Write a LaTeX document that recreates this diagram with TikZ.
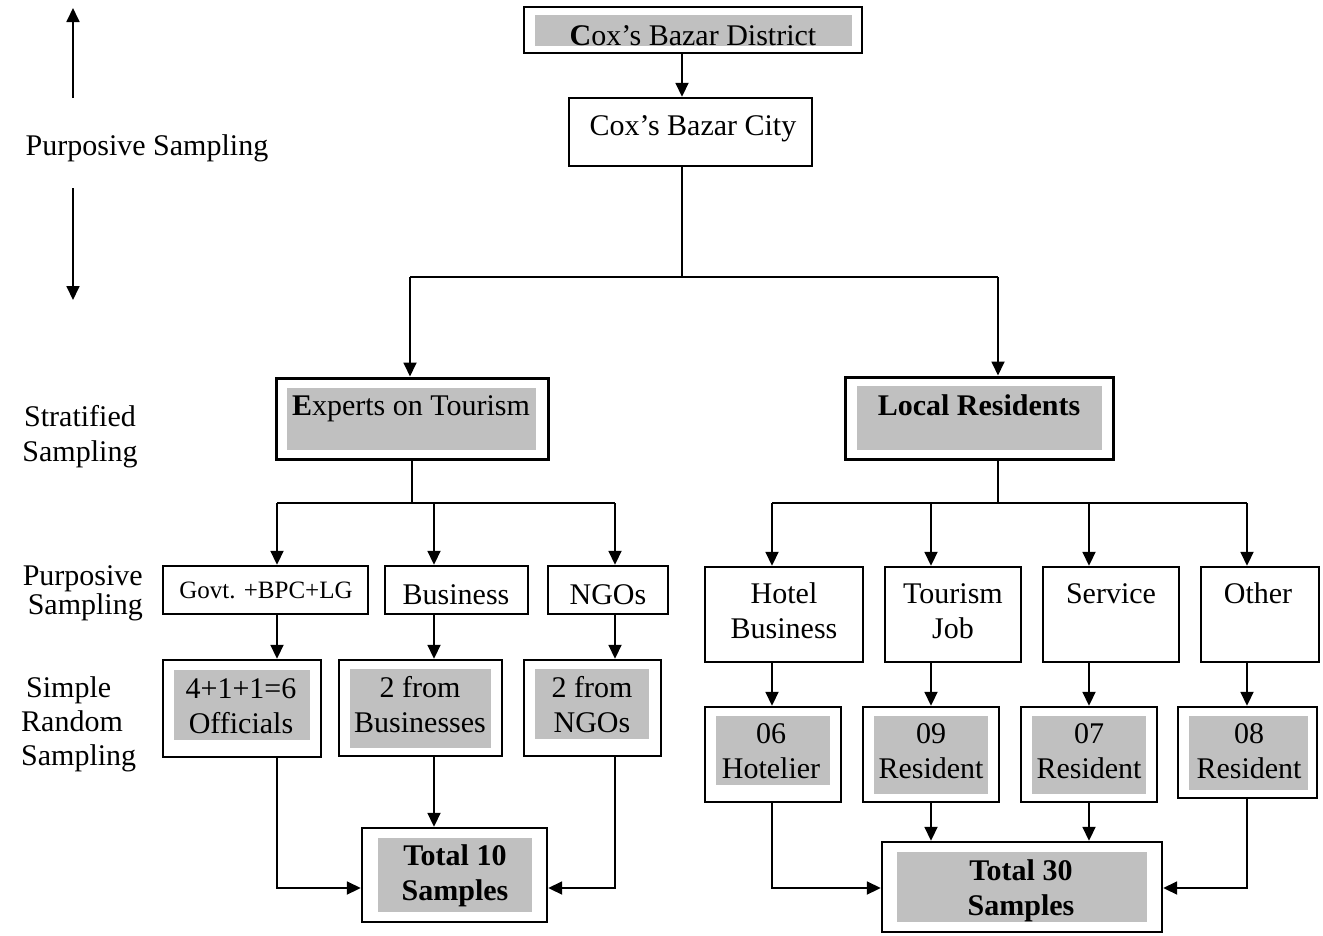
\documentclass[tikz,border=0pt]{standalone}
\usepackage{fontspec}
\setmainfont{Liberation Serif}
\usetikzlibrary{arrows.meta}
\definecolor{shade}{RGB}{192,192,192}
% one text line per row, first row on the node's base line
\newcommand\ml[2][c]{\begin{tabular}[t]{@{}#1@{}}#2\end{tabular}}
% rectangle node given by its corners: name, x1, y1, x2, y2, style
\newcommand\rectnode[6]{%
  \node[#6, minimum width={(#4)-(#2)}, minimum height={(#5)-(#3)}]
    (#1) at ({((#2)+(#4))/2},{((#3)+(#5))/2}) {};}
\begin{document}
\begin{tikzpicture}[x=1pt,y=-1pt,
  box/.style={draw, line width=2.4pt, inner sep=0pt, fill=white},
  shadebox/.style={fill=shade, draw=none, inner sep=0pt},
  lbl/.style={anchor=base, inner sep=0pt, font=\fontsize{30}{35}\selectfont},
  smalllbl/.style={anchor=base, inner sep=0pt, font=\fontsize{25}{30}\selectfont},
  conn/.style={line width=1.8pt},
  arr/.style={line width=1.8pt, -{Triangle[length=14pt,width=13pt]}},
]
\useasboundingbox (0,0) rectangle (1323,935);

% ---------- side labels ----------
\node[lbl] (ps) at (147,155) {Purposive Sampling};
\coordinate (psup) at (73,8);
\coordinate (psdn) at (73,300);
\coordinate (psa) at (73,98);
\coordinate (psb) at (73,188);
\draw[arr] (psa) -- (psup);
\draw[arr] (psb) -- (psdn);
\node[lbl] (strat) at (80,426) {\ml{Stratified\\Sampling}};
\node[lbl, anchor=base east, font=\fontsize{30}{29}\selectfont] (purp) at (143,585) {\ml[r]{Purposive\\Sampling}};
\node[lbl, anchor=base west, font=\fontsize{30}{34}\selectfont] (srs) at (21,697) {\ml[l]{\,Simple\\Random\\Sampling}};

% ---------- top ----------
\rectnode{dist}{524}{7}{862}{53}{box}
\rectnode{distg}{535}{15}{852}{46}{shadebox}
\node[lbl] (distt) at (693,45) {\textbf{C}ox’s Bazar District};
\rectnode{city}{569}{98}{812}{166}{box}
\node[lbl] (cityt) at (693,135) {Cox’s Bazar City};

% ---------- second level ----------
\rectnode{exp}{276}{378}{548}{459}{box, line width=3pt}
\rectnode{expg}{287}{388}{536}{450}{shadebox}
\node[lbl] (expt) at (411,415) {\textbf{E}xperts on Tourism};
\rectnode{loc}{845}{377}{1113}{459}{box, line width=3pt}
\rectnode{locg}{857}{386}{1102}{450}{shadebox}
\node[lbl] (loct) at (979,415) {\textbf{Local Residents}};

% ---------- experts branch ----------
\rectnode{govt}{163}{566}{368}{614}{box}
\node[smalllbl] (govtt) at (266,598) {Govt. +BPC+LG};
\rectnode{busi}{385}{566}{528}{614}{box}
\node[lbl] (busit) at (456,604) {Business};
\rectnode{ngo}{548}{566}{668}{614}{box}
\node[lbl] (ngot) at (608,604) {NGOs};

\rectnode{off}{163}{660}{321}{757}{box}
\rectnode{offg}{174}{670}{310}{740}{shadebox}
\node[lbl] (offt) at (241,698) {\ml{4+1+1=6\\Officials}};
\rectnode{bfrom}{339}{660}{502}{756}{box}
\rectnode{bfromg}{350}{669}{491}{748}{shadebox}
\node[lbl] (bfromt) at (420,697) {\ml{2 from\\Businesses}};
\rectnode{nfrom}{524}{660}{661}{756}{box}
\rectnode{nfromg}{535}{669}{649}{739}{shadebox}
\node[lbl] (nfromt) at (592,697) {\ml{2 from\\NGOs}};

\rectnode{tot10}{362}{828}{547}{922}{box}
\rectnode{tot10g}{378}{838}{532}{912}{shadebox}
\node[lbl] (tot10t) at (455,865) {\ml{\textbf{Total 10}\\\textbf{Samples}}};

% ---------- residents branch ----------
\rectnode{hotel}{705}{567}{863}{662}{box}
\node[lbl] (hotelt) at (784,603) {\ml{Hotel\\Business}};
\rectnode{tjob}{885}{567}{1021}{662}{box}
\node[lbl] (tjobt) at (953,603) {\ml{Tourism\\Job}};
\rectnode{serv}{1043}{567}{1179}{662}{box}
\node[lbl] (servt) at (1111,603) {Service};
\rectnode{oth}{1201}{567}{1319}{662}{box}
\node[lbl] (otht) at (1258,603) {Other};

\rectnode{r06}{705}{707}{841}{802}{box}
\rectnode{r06g}{716}{716}{830}{785}{shadebox}
\node[lbl] (r06t) at (771,743) {\ml{06\\Hotelier}};
\rectnode{r09}{863}{707}{999}{802}{box}
\rectnode{r09g}{874}{716}{988}{794}{shadebox}
\node[lbl] (r09t) at (931,743) {\ml{09\\Resident}};
\rectnode{r07}{1021}{707}{1157}{802}{box}
\rectnode{r07g}{1032}{716}{1146}{794}{shadebox}
\node[lbl] (r07t) at (1089,743) {\ml{07\\Resident}};
\rectnode{r08}{1178}{707}{1317}{798}{box}
\rectnode{r08g}{1189}{716}{1308}{790}{shadebox}
\node[lbl] (r08t) at (1249,743) {\ml{08\\Resident}};

\rectnode{tot30}{882}{842}{1162}{932}{box}
\rectnode{tot30g}{897}{852}{1147}{922}{shadebox}
\node[lbl] (tot30t) at (1021,880) {\ml{\textbf{Total 30}\\\textbf{Samples}}};

% ---------- connectors ----------
\coordinate (c0) at (682,277);
\coordinate (cl) at (410,277);
\coordinate (cr) at (998,277);
\draw[arr] (dist.south -| c0) -- (c0 |- city.north);
\draw[conn] (city.south -| c0) -- (c0);
\draw[conn] (cl) -- (cr);
\draw[arr] (cl) -- (cl |- exp.north);
\draw[arr] (cr) -- (cr |- loc.north);

% experts split
\coordinate (e0) at (277,503);
\coordinate (e1) at (434,503);
\coordinate (e2) at (615,503);
\draw[conn] (exp.south) -- (exp.south |- e0);
\draw[conn] (e0) -- (e2);
\draw[arr] (e0) -- (e0 |- govt.north);
\draw[arr] (e1) -- (e1 |- busi.north);
\draw[arr] (e2) -- (e2 |- ngo.north);
\draw[arr] (govt.south -| e0) -- (e0 |- off.north);
\draw[arr] (busi.south -| e1) -- (e1 |- bfrom.north);
\draw[arr] (ngo.south -| e2) -- (e2 |- nfrom.north);
\coordinate (t10) at (0,888);
\draw[arr] (off.south -| e0) |- (tot10.west |- t10);
\draw[arr] (bfrom.south -| e1) -- (e1 |- tot10.north);
\draw[arr] (nfrom.south -| e2) |- (tot10.east |- t10);

% residents split
\coordinate (l0) at (772,503);
\coordinate (l1) at (931,503);
\coordinate (l2) at (1089,503);
\coordinate (l3) at (1247,503);
\coordinate (lc) at (998,503);
\draw[conn] (loc.south -| lc) -- (lc);
\draw[conn] (l0) -- (l3);
\draw[arr] (l0) -- (l0 |- hotel.north);
\draw[arr] (l1) -- (l1 |- tjob.north);
\draw[arr] (l2) -- (l2 |- serv.north);
\draw[arr] (l3) -- (l3 |- oth.north);
\draw[arr] (hotel.south -| l0) -- (l0 |- r06.north);
\draw[arr] (tjob.south -| l1) -- (l1 |- r09.north);
\draw[arr] (serv.south -| l2) -- (l2 |- r07.north);
\draw[arr] (oth.south -| l3) -- (l3 |- r08.north);
\draw[arr] (r09.south -| l1) -- (l1 |- tot30.north);
\draw[arr] (r07.south -| l2) -- (l2 |- tot30.north);
\draw[arr] (r06.south -| l0) |- (tot30.west |- t10);
\draw[arr] (r08.south -| l3) |- (tot30.east |- t10);
\end{tikzpicture}
\end{document}
